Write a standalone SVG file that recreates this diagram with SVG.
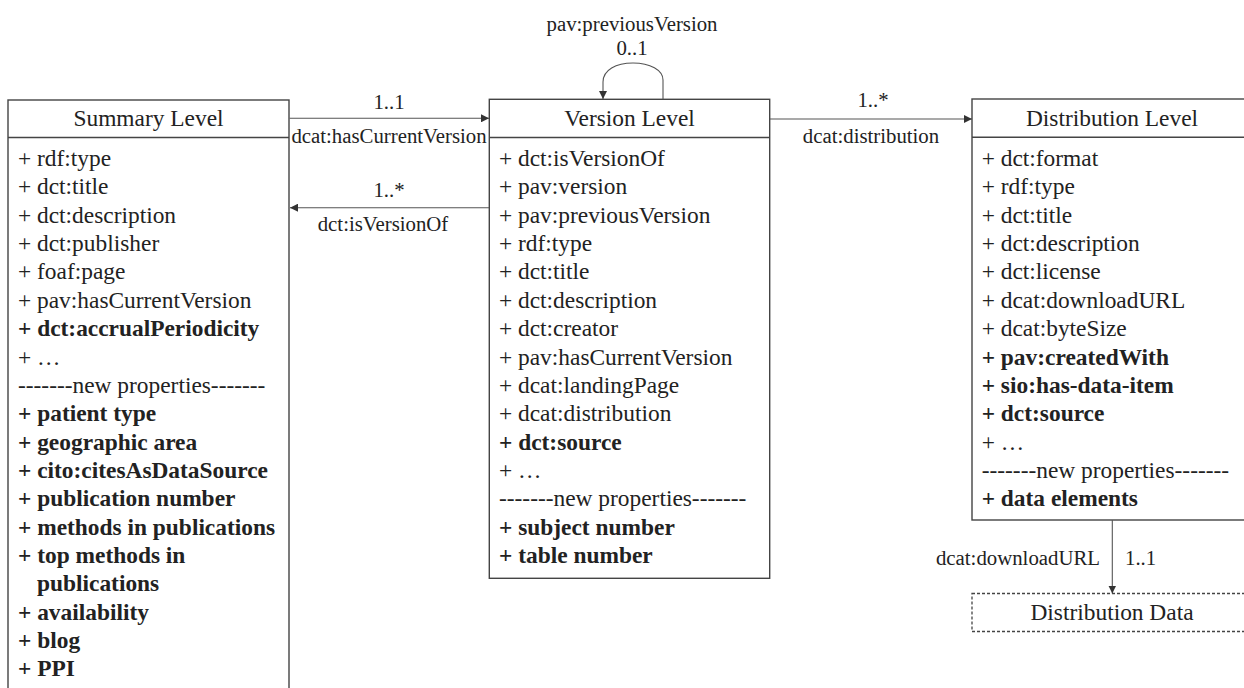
<svg xmlns="http://www.w3.org/2000/svg" width="1244" height="688" viewBox="0 0 1244 688">
  <defs>
    <style>
      .box { fill: #ffffff; stroke: #444444; stroke-width: 1.4; }
      .sep { stroke: #444444; stroke-width: 1.4; }
      .dashed { fill: #ffffff; stroke: #444444; stroke-width: 1.3; stroke-dasharray: 3 2; }
      .conn { fill: none; stroke: #555555; stroke-width: 1.1; }
      text { font-family: "Liberation Serif", "Times New Roman", serif; fill: #222222; }
      .head { font-size: 23.4px; text-anchor: middle; }
      .row { font-size: 23.4px; }
      .b { font-weight: bold; }
      .lbl { font-size: 20.8px; text-anchor: middle; }
    </style>
    <marker id="arrow" viewBox="0 0 10 10" refX="10" refY="5" markerWidth="8" markerHeight="8" markerUnits="userSpaceOnUse" orient="auto">
      <path d="M0,0 L10,5 L0,10 Z" fill="#333333"/>
    </marker>
  </defs>

  <!-- Summary Level class -->
  <g id="summary-level">
    <rect class="box" x="8" y="100" width="281" height="600"/>
    <line class="sep" x1="8" y1="137.5" x2="289" y2="137.5"/>
    <text class="head" x="148.5" y="126">Summary Level</text>
    <text class="row" x="18" y="166">+ rdf:type</text>
    <text class="row" x="18" y="194.4">+ dct:title</text>
    <text class="row" x="18" y="222.7">+ dct:description</text>
    <text class="row" x="18" y="251.1">+ dct:publisher</text>
    <text class="row" x="18" y="279.4">+ foaf:page</text>
    <text class="row" x="18" y="307.8">+ pav:hasCurrentVersion</text>
    <text class="row b" x="18" y="336.1">+ dct:accrualPeriodicity</text>
    <text class="row" x="18" y="364.5">+ …</text>
    <text class="row" x="18" y="392.8">-------new properties-------</text>
    <text class="row b" x="18" y="421.2">+ patient type</text>
    <text class="row b" x="18" y="449.5">+ geographic area</text>
    <text class="row b" x="18" y="477.9">+ cito:citesAsDataSource</text>
    <text class="row b" x="18" y="506.2">+ publication number</text>
    <text class="row b" x="18" y="534.6">+ methods in publications</text>
    <text class="row b" x="18" y="562.9">+ top methods in</text>
    <text class="row b" x="37" y="591.3">publications</text>
    <text class="row b" x="18" y="619.6">+ availability</text>
    <text class="row b" x="18" y="648">+ blog</text>
    <text class="row b" x="18" y="676.3">+ PPI</text>
  </g>

  <!-- Version Level class -->
  <g id="version-level">
    <rect class="box" x="489.3" y="99.3" width="280.4" height="479"/>
    <line class="sep" x1="489.3" y1="137.5" x2="769.7" y2="137.5"/>
    <text class="head" x="629.5" y="126">Version Level</text>
    <text class="row" x="499" y="166">+ dct:isVersionOf</text>
    <text class="row" x="499" y="194.4">+ pav:version</text>
    <text class="row" x="499" y="222.7">+ pav:previousVersion</text>
    <text class="row" x="499" y="251.1">+ rdf:type</text>
    <text class="row" x="499" y="279.4">+ dct:title</text>
    <text class="row" x="499" y="307.8">+ dct:description</text>
    <text class="row" x="499" y="336.1">+ dct:creator</text>
    <text class="row" x="499" y="364.5">+ pav:hasCurrentVersion</text>
    <text class="row" x="499" y="392.8">+ dcat:landingPage</text>
    <text class="row" x="499" y="421.2">+ dcat:distribution</text>
    <text class="row b" x="499" y="449.5">+ dct:source</text>
    <text class="row" x="499" y="477.9">+ …</text>
    <text class="row" x="499" y="506.2">-------new properties-------</text>
    <text class="row b" x="499" y="534.6">+ subject number</text>
    <text class="row b" x="499" y="562.9">+ table number</text>
  </g>

  <!-- Distribution Level class -->
  <g id="distribution-level">
    <rect class="box" x="972" y="99" width="280" height="421"/>
    <line class="sep" x1="972" y1="137.3" x2="1252" y2="137.3"/>
    <text class="head" x="1112" y="126">Distribution Level</text>
    <text class="row" x="981.7" y="166">+ dct:format</text>
    <text class="row" x="981.7" y="194.4">+ rdf:type</text>
    <text class="row" x="981.7" y="222.7">+ dct:title</text>
    <text class="row" x="981.7" y="251.1">+ dct:description</text>
    <text class="row" x="981.7" y="279.4">+ dct:license</text>
    <text class="row" x="981.7" y="307.8">+ dcat:downloadURL</text>
    <text class="row" x="981.7" y="336.1">+ dcat:byteSize</text>
    <text class="row b" x="981.7" y="364.5">+ pav:createdWith</text>
    <text class="row b" x="981.7" y="392.8">+ sio:has-data-item</text>
    <text class="row b" x="981.7" y="421.2">+ dct:source</text>
    <text class="row" x="981.7" y="449.5">+ …</text>
    <text class="row" x="981.7" y="477.9">-------new properties-------</text>
    <text class="row b" x="981.7" y="506.2">+ data elements</text>
  </g>

  <!-- Distribution Data (dashed) -->
  <g id="distribution-data">
    <rect class="dashed" x="972" y="593.5" width="280" height="38"/>
    <text class="head" x="1112" y="620">Distribution Data</text>
  </g>

  <!-- Associations between the levels -->
  <g id="connectors">
    <line class="conn" x1="289.5" y1="118.3" x2="489" y2="118.3" marker-end="url(#arrow)"/>
    <text class="lbl" x="389" y="108.5">1..1</text>
    <text class="lbl" x="389" y="143">dcat:hasCurrentVersion</text>

    <line class="conn" x1="489" y1="207.7" x2="290" y2="207.7" marker-end="url(#arrow)"/>
    <text class="lbl" x="389" y="197">1..*</text>
    <text class="lbl" x="383" y="231">dct:isVersionOf</text>

    <path class="conn" d="M663,99.3 L663,80 C663,70 650,63 633,63 C616,63 603,70 603,82 L603,99" marker-end="url(#arrow)"/>
    <text class="lbl" x="632" y="31">pav:previousVersion</text>
    <text class="lbl" x="632" y="55">0..1</text>

    <line class="conn" x1="770" y1="119" x2="972" y2="119" marker-end="url(#arrow)"/>
    <text class="lbl" x="873" y="107">1..*</text>
    <text class="lbl" x="871" y="143">dcat:distribution</text>

    <line class="conn" x1="1112.3" y1="520" x2="1112.3" y2="593.5" marker-end="url(#arrow)"/>
    <text class="lbl" x="1100" y="565" style="text-anchor:end">dcat:downloadURL</text>
    <text class="lbl" x="1125" y="565" style="text-anchor:start">1..1</text>
  </g>
</svg>
